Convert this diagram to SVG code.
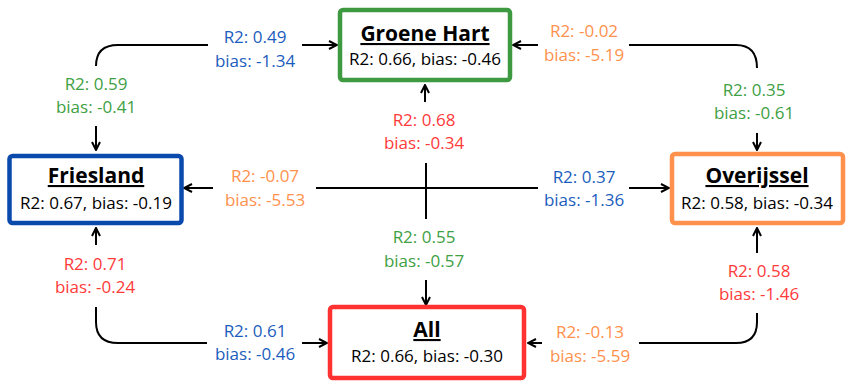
<svg xmlns="http://www.w3.org/2000/svg" width="854" height="389" viewBox="0 0 854 389">
<style>
.box{fill:#fff;stroke-width:4.5}
.t{font-family:"Open Sans","Noto Sans",sans-serif;text-anchor:middle}
.title{font-size:21px;font-weight:bold;text-decoration:underline;fill:#000}
.sub{font-size:17px;fill:#000}
.lbl{font-size:17px}
.c{fill:none;stroke:#000;stroke-width:2}
.blue{fill:#1b5dbd}.green{fill:#40a044}.orange{fill:#ff914d}.red{fill:#ff3a3a}
</style>
<defs>
<marker id="ah" viewBox="0 0 10 10" refX="9" refY="5" markerWidth="10" markerHeight="10" markerUnits="userSpaceOnUse" orient="auto-start-reverse">
<path d="M1,1 L9,5 L1,9" fill="none" stroke="#000" stroke-width="2"/>
</marker>
</defs>
<rect width="854" height="389" fill="#fff"/>
<g id="connectors">
<path class="c" d="M96,66 Q96,45 118,45 H208"/>
<path class="c" d="M96,126 V150" marker-end="url(#ah)"/>
<path class="c" d="M302,45 H337" marker-end="url(#ah)"/>
<path class="c" d="M538,45 H513" marker-end="url(#ah)"/>
<path class="c" d="M629,45 H736 Q757,45 757,68"/>
<path class="c" d="M757,133 V150" marker-end="url(#ah)"/>
<path class="c" d="M213,188 H184" marker-end="url(#ah)"/>
<path class="c" d="M316,188 H538"/>
<path class="c" d="M629,188 H669" marker-end="url(#ah)"/>
<path class="c" d="M425,102 V85" marker-end="url(#ah)"/>
<path class="c" d="M426,163 V219"/>
<path class="c" d="M426,280 V305" marker-end="url(#ah)"/>
<path class="c" d="M96,245 V228" marker-end="url(#ah)"/>
<path class="c" d="M96,307 V322 Q96,343 118,343 H207"/>
<path class="c" d="M302,343 H327" marker-end="url(#ah)"/>
<path class="c" d="M757,253 V228" marker-end="url(#ah)"/>
<path class="c" d="M757,313 V322 Q757,343 736,343 H639"/>
<path class="c" d="M542,343 H528" marker-end="url(#ah)"/>
</g>
<g id="labels">
<text class="t lbl blue" x="255" y="43">R2: 0.49</text>
<text class="t lbl blue" x="255" y="67">bias: -1.34</text>
<text class="t lbl green" x="96" y="90">R2: 0.59</text>
<text class="t lbl green" x="96" y="113">bias: -0.41</text>
<text class="t lbl orange" x="584" y="37">R2: -0.02</text>
<text class="t lbl orange" x="584" y="61">bias: -5.19</text>
<text class="t lbl green" x="754" y="96">R2: 0.35</text>
<text class="t lbl green" x="754" y="119">bias: -0.61</text>
<text class="t lbl orange" x="265" y="182">R2: -0.07</text>
<text class="t lbl orange" x="265" y="206">bias: -5.53</text>
<text class="t lbl blue" x="584" y="183">R2: 0.37</text>
<text class="t lbl blue" x="584" y="206">bias: -1.36</text>
<text class="t lbl red" x="424" y="126">R2: 0.68</text>
<text class="t lbl red" x="424" y="149">bias: -0.34</text>
<text class="t lbl green" x="424" y="243">R2: 0.55</text>
<text class="t lbl green" x="424" y="267">bias: -0.57</text>
<text class="t lbl red" x="95" y="270">R2: 0.71</text>
<text class="t lbl red" x="95" y="293">bias: -0.24</text>
<text class="t lbl blue" x="255" y="337">R2: 0.61</text>
<text class="t lbl blue" x="255" y="360">bias: -0.46</text>
<text class="t lbl red" x="759" y="277">R2: 0.58</text>
<text class="t lbl red" x="759" y="300">bias: -1.46</text>
<text class="t lbl orange" x="590" y="338">R2: -0.13</text>
<text class="t lbl orange" x="590" y="362">bias: -5.59</text>
</g>
<g id="groene-hart">
<rect class="box" x="340" y="10" width="170" height="70" rx="3" stroke="#3d9a40"/>
<text class="t title" x="425" y="41">Groene Hart</text>
<text class="t sub" x="425" y="65">R2: 0.66, bias: -0.46</text>
</g>
<g id="friesland">
<rect class="box" x="9.5" y="156" width="172" height="67" rx="3" stroke="#0a4aad"/>
<text class="t title" x="96" y="183">Friesland</text>
<text class="t sub" x="96" y="209">R2: 0.67, bias: -0.19</text>
</g>
<g id="overijssel">
<rect class="box" x="672" y="154" width="171" height="69" rx="3" stroke="#ff914d"/>
<text class="t title" x="757" y="183">Overijssel</text>
<text class="t sub" x="757" y="209">R2: 0.58, bias: -0.34</text>
</g>
<g id="all">
<rect class="box" x="330" y="307" width="194" height="71" rx="3" stroke="#ff3131"/>
<text class="t title" x="427" y="337">All</text>
<text class="t sub" x="427" y="362">R2: 0.66, bias: -0.30</text>
</g>
</svg>
